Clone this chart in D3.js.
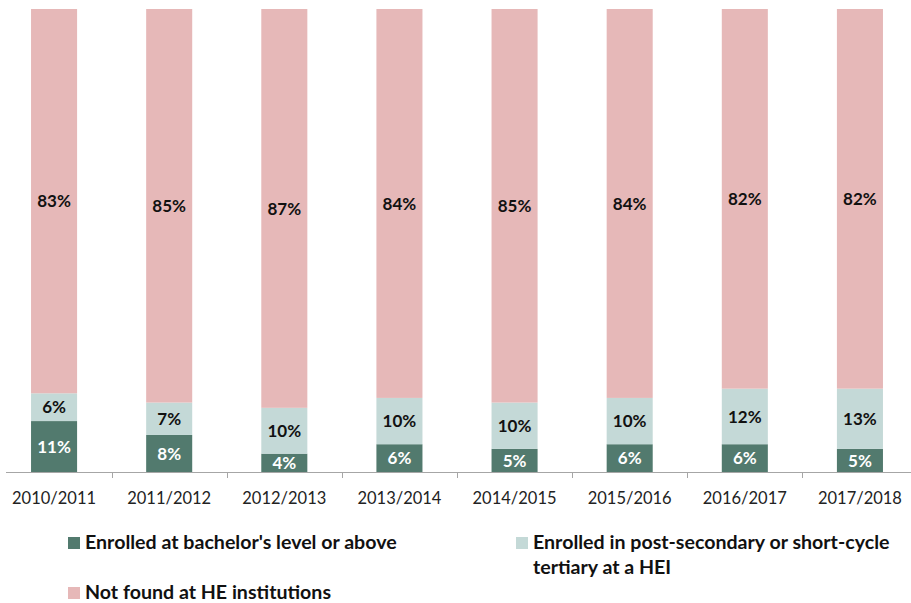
<!DOCTYPE html>
<html>
<head>
<meta charset="utf-8">
<script src="https://cdn.jsdelivr.net/npm/d3@7"></script>
<style>
  html, body { margin: 0; padding: 0; background: #fff; }
  svg { display: block; }
</style>
</head>
<body>
<svg id="chart" width="911" height="603"></svg>
<script>
// Academic years shown along the x axis
const years = ["2010/2011", "2011/2012", "2012/2013", "2013/2014", "2014/2015", "2015/2016", "2016/2017", "2017/2018"];

// Shares (%) per year, one array per series
const bachelorOrAbove = [11, 8, 4, 6, 5, 6, 6, 5];
const postSecondary   = [6, 7, 10, 10, 10, 10, 12, 13];
const notFound        = [83, 85, 87, 84, 85, 84, 82, 82];

const seriesNames = [
  "Enrolled at bachelor's level or above",
  "Enrolled in post-secondary or short-cycle tertiary at a HEI",
  "Not found at HE institutions"
];
const seriesColors = ["#527a6e", "#c4d9d7", "#e6b8b8"];
const labelColors  = ["#ffffff", "#111111", "#111111"];

const keys = ["a", "b", "c"];
const rows = years.map((y, i) => ({ year: y, a: bachelorOrAbove[i], b: postSecondary[i], c: notFound[i] }));

const svg = d3.select("#chart");
const font = "Lato, 'Open Sans', sans-serif";

const x = d3.scaleBand()
  .domain(years)
  .range([-3.5, 917.5])
  .paddingInner(0.6)
  .paddingOuter(0.3);

const y = d3.scaleLinear().domain([0, 1]).range([472, 9]);

// 100% stacked layout
const stacked = d3.stack().keys(keys).offset(d3.stackOffsetExpand)(rows);

const layers = svg.selectAll("g.layer")
  .data(stacked)
  .join("g")
  .attr("class", "layer")
  .attr("fill", (d, i) => seriesColors[i]);

layers.selectAll("rect")
  .data(d => d)
  .join("rect")
  .attr("x", d => x(d.data.year))
  .attr("width", x.bandwidth())
  .attr("y", d => y(d[1]))
  .attr("height", d => y(d[0]) - y(d[1]));

// Value labels centred in each segment
stacked.forEach((layer, li) => {
  svg.append("g").selectAll("text")
    .data(layer)
    .join("text")
    .attr("x", d => x(d.data.year) + x.bandwidth() / 2)
    .attr("y", d => (y(d[0]) + y(d[1])) / 2)
    .attr("dy", "0.36em")
    .attr("text-anchor", "middle")
    .attr("font-family", font)
    .attr("font-weight", "bold")
    .attr("font-size", 17)
    .attr("fill", labelColors[li])
    .text(d => d.data[layer.key] + "%");
});

// Category axis: baseline with ticks between bands
const axisY = 472;
svg.append("line")
  .attr("x1", 6).attr("x2", 911)
  .attr("y1", axisY + 0.5).attr("y2", axisY + 0.5)
  .attr("stroke", "#a6a6a6").attr("stroke-width", 1);

const step = x.step();
const gap = step - x.bandwidth();
svg.append("g").selectAll("line")
  .data(years.slice(1))
  .join("line")
  .attr("x1", d => Math.round(x(d) - gap / 2) + 0.5)
  .attr("x2", d => Math.round(x(d) - gap / 2) + 0.5)
  .attr("y1", axisY).attr("y2", axisY + 6)
  .attr("stroke", "#a6a6a6");

svg.append("g").selectAll("text")
  .data(years)
  .join("text")
  .attr("x", d => x(d) + x.bandwidth() / 2)
  .attr("y", 498)
  .attr("dy", "0.36em")
  .attr("text-anchor", "middle")
  .attr("font-family", font)
  .attr("font-size", 16.5)
  .attr("fill", "#222")
  .text(d => d);

// Legend
const legendItems = [
  { i: 0, x: 68, lines: [seriesNames[0]], y: 542 },
  { i: 1, x: 516, lines: ["Enrolled in post-secondary or short-cycle", "tertiary at a HEI"], y: 542 },
  { i: 2, x: 68, lines: [seriesNames[2]], y: 592 }
];

const lg = svg.append("g");
legendItems.forEach(item => {
  lg.append("rect")
    .attr("x", item.x).attr("y", item.y - 5)
    .attr("width", 12).attr("height", 12)
    .attr("fill", seriesColors[item.i]);
  const t = lg.append("text")
    .attr("font-family", font)
    .attr("font-weight", "bold")
    .attr("font-size", 19.6)
    .attr("fill", "#111");
  item.lines.forEach((ln, k) => {
    t.append("tspan")
      .attr("x", item.x + 17)
      .attr("y", item.y + k * 25)
      .attr("dy", "0.36em")
      .text(ln);
  });
});
</script>
</body>
</html>
